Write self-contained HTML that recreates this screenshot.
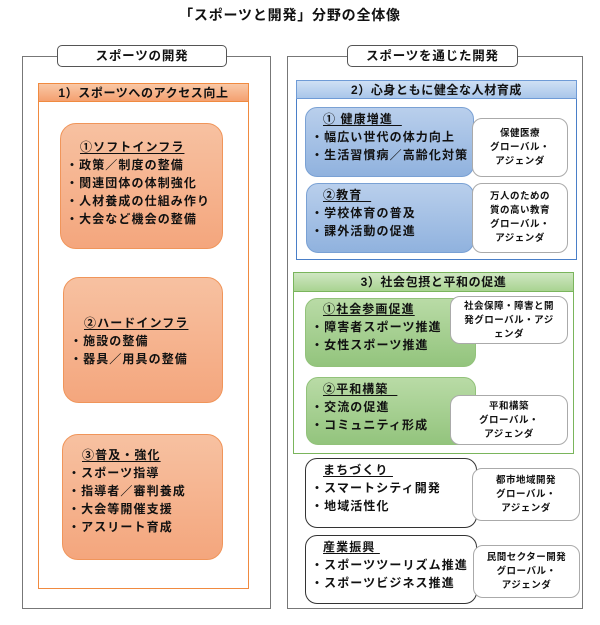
<!DOCTYPE html>
<html><head><meta charset="utf-8"><style>
*{margin:0;padding:0;box-sizing:border-box}
body{width:600px;height:625px;background:#fff;position:relative;font-family:"Liberation Sans","Noto Sans CJK JP",sans-serif;color:#111;overflow:hidden}
.a{position:absolute}
.t{font-size:12px;line-height:18px;font-weight:bold;white-space:nowrap;letter-spacing:1.1px}
.s{font-size:9.5px;line-height:14px;font-weight:bold;text-align:center;letter-spacing:0.5px}
.frame{border:1.5px solid #777}
.pill{background:#fff;border:1px solid #555;border-radius:5px;font-size:12.5px;font-weight:bold;text-align:center;line-height:20px;letter-spacing:0.8px}
.ob{border-radius:16px;border:1px solid #f0955a;background:linear-gradient(#f7c1a1,#f4a67d)}
.bb{border-radius:12px;border:1px solid #7aa1d4;background:linear-gradient(#b9cfec,#90b2de)}
.gb{border-radius:12px;border:1px solid #92c27a;background:linear-gradient(#b9dba6,#93c47d)}
.wb{border-radius:10px;border:1px solid #aaa;background:#fff}
.kb{border-radius:12px;border:1.5px solid #333;background:#fff}
u{text-underline-offset:2px}
</style></head><body>
<div class="a" style="left:0;top:5px;width:580px;text-align:center;font-size:14px;font-weight:bold;letter-spacing:0.8px">「スポーツと開発」分野の全体像</div>

<div class="a frame" style="left:22px;top:56px;width:249px;height:553px"></div>
<div class="a pill" style="left:57px;top:45px;width:170px;height:22px">スポーツの開発</div>
<div class="a" style="left:38px;top:83px;width:211px;height:506px;border:1.5px solid #f08a40"></div>
<div class="a t" style="left:38px;top:83px;width:211px;height:19px;background:linear-gradient(#f9c8a6,#f4a070);border:1px solid #f08a40;text-align:center;letter-spacing:0.6px">1）スポーツへのアクセス向上</div>

<div class="a ob" style="left:60px;top:123px;width:163px;height:126px"></div>
<div class="a t" style="left:66px;top:138px"><span style="margin-left:14px"><u>①ソフトインフラ</u></span><br>・政策／制度の整備<br>・関連団体の体制強化<br>・人材養成の仕組み作り<br>・大会など機会の整備</div>

<div class="a ob" style="left:63px;top:277px;width:160px;height:126px"></div>
<div class="a t" style="left:70px;top:314px"><span style="margin-left:14px"><u>②ハードインフラ</u></span><br>・施設の整備<br>・器具／用具の整備</div>

<div class="a ob" style="left:62px;top:434px;width:161px;height:126px"></div>
<div class="a t" style="left:68px;top:446px"><span style="margin-left:14px"><u>③普及・強化</u></span><br>・スポーツ指導<br>・指導者／審判養成<br>・大会等開催支援<br>・アスリート育成</div>

<div class="a frame" style="left:287px;top:56px;width:296px;height:553px"></div>
<div class="a pill" style="left:347px;top:45px;width:171px;height:22px">スポーツを通じた開発</div>

<div class="a" style="left:296px;top:80px;width:281px;height:180px;border:1.5px solid #4a7fc8"></div>
<div class="a t" style="left:296px;top:80px;width:281px;height:19px;background:linear-gradient(#cfe0f4,#a9c6ea);border:1px solid #6f9bd6;text-align:center;letter-spacing:0.6px">2）心身ともに健全な人材育成</div>
<div class="a bb" style="left:305px;top:107px;width:169px;height:70px"></div>
<div class="a t" style="left:311px;top:110px"><span style="margin-left:12px"><u>①&nbsp;健康増進&nbsp;&nbsp;</u></span><br>・幅広い世代の体力向上<br>・生活習慣病／高齢化対策</div>
<div class="a wb s" style="left:472px;top:118px;width:96px;height:59px;padding-top:8px">保健医療<br>グローバル・<br>アジェンダ</div>
<div class="a bb" style="left:306px;top:183px;width:168px;height:70px"></div>
<div class="a t" style="left:311px;top:186px"><span style="margin-left:12px"><u>②教育&nbsp;&nbsp;</u></span><br>・学校体育の普及<br>・課外活動の促進</div>
<div class="a wb s" style="left:472px;top:183px;width:96px;height:70px;padding-top:6px">万人のための<br>質の高い教育<br>グローバル・<br>アジェンダ</div>

<div class="a" style="left:293px;top:272px;width:281px;height:182px;border:1.5px solid #7ab55c"></div>
<div class="a t" style="left:293px;top:272px;width:281px;height:20px;background:linear-gradient(#cfe7c2,#a9d391);border:1px solid #7ab55c;text-align:center;letter-spacing:0.6px">3）社会包摂と平和の促進</div>
<div class="a gb" style="left:305px;top:298px;width:171px;height:69px"></div>
<div class="a t" style="left:311px;top:300px"><span style="margin-left:12px"><u>①社会参画促進</u></span><br>・障害者スポーツ推進<br>・女性スポーツ推進</div>
<div class="a wb s" style="left:450px;top:296px;width:118px;height:48px;padding-top:3px">社会保障・障害と開<br>発グローバル・アジ<br>ェンダ</div>
<div class="a gb" style="left:306px;top:377px;width:170px;height:68px"></div>
<div class="a t" style="left:311px;top:380px"><span style="margin-left:12px"><u>②平和構築&nbsp;&nbsp;</u></span><br>・交流の促進<br>・コミュニティ形成</div>
<div class="a wb s" style="left:450px;top:395px;width:118px;height:50px;padding-top:4px">平和構築<br>グローバル・<br>アジェンダ</div>

<div class="a kb" style="left:305px;top:458px;width:172px;height:70px"></div>
<div class="a t" style="left:311px;top:461px"><span style="margin-left:12px"><u>まちづくり&nbsp;</u></span><br>・スマートシティ開発<br>・地域活性化</div>
<div class="a wb s" style="left:472px;top:468px;width:108px;height:53px;padding-top:5px">都市地域開発<br>グローバル・<br>アジェンダ</div>

<div class="a kb" style="left:305px;top:535px;width:172px;height:69px"></div>
<div class="a t" style="left:311px;top:538px"><span style="margin-left:12px"><u>産業振興&nbsp;</u></span><br>・スポーツツーリズム推進<br>・スポーツビジネス推進</div>
<div class="a wb s" style="left:473px;top:545px;width:107px;height:53px;padding-top:5px">民間セクター開発<br>グローバル・<br>アジェンダ</div>
</body></html>
